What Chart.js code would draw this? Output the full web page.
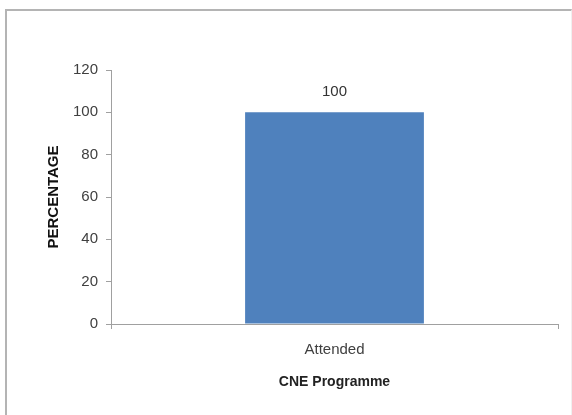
<!DOCTYPE html>
<html lang="en">
<head>
  <meta charset="UTF-8">
  <title>CNE Programme</title>
  <script src="https://cdn.jsdelivr.net/npm/chart.js"></script>
  <style>
    html, body { margin: 0; padding: 0; background: #fff; }
    #frame {
      position: absolute; left: 5px; top: 9px; width: 564px; height: 420px;
      border-left: 2px solid #b4b4b4; border-top: 2px solid #b4b4b4;
      border-right: 1px solid #f0f0f0;
    }
    #wrap { position: absolute; left: 0; top: 0; width: 572px; height: 415px; }
  </style>
</head>
<body>
  <div id="frame"></div>
  <div id="wrap"><canvas id="chart" width="572" height="415"></canvas></div>

  <script>
    const categories = ['Attended'];
    const percentages = [100];
    const yTicks = [0, 20, 40, 60, 80, 100, 120];

    const axisColor = '#a0a0a0';
    const font = '"Liberation Sans", Arial, sans-serif';

    // draws the value above each bar
    const valueLabels = {
      id: 'valueLabels',
      afterDatasetsDraw(chart) {
        const ctx = chart.ctx;
        const meta = chart.getDatasetMeta(0);
        ctx.save();
        ctx.font = '15px ' + font;
        ctx.fillStyle = '#333';
        ctx.textAlign = 'center';
        ctx.textBaseline = 'middle';
        meta.data.forEach((bar, i) => {
          ctx.fillText(String(percentages[i]), bar.x, bar.y - 20);
        });
        ctx.restore();
      }
    };

    new Chart(document.getElementById('chart'), {
      type: 'bar',
      data: {
        labels: categories,
        datasets: [{
          data: percentages,
          backgroundColor: '#4f81bd',
          borderWidth: 0,
          categoryPercentage: 1,
          barPercentage: 0.4
        }]
      },
      options: {
        responsive: false,
        animation: false,
        layout: { padding: { top: 70, right: 14, bottom: 0, left: 0 } },
        plugins: {
          legend: { display: false },
          tooltip: { enabled: false }
        },
        scales: {
          x: {
            offset: true,
            grid: { offset: true, drawOnChartArea: false, tickLength: 5, color: axisColor },
            border: { color: axisColor, width: 1 },
            ticks: { padding: 12, color: '#404040', font: { family: font, size: 15 } },
            title: {
              display: true, text: 'CNE Programme', color: '#222',
              font: { family: font, size: 14, weight: 'bold' },
              padding: { top: 0, bottom: 24 }
            },
            afterFit(scale) { scale.height = 91; }
          },
          y: {
            min: 0,
            max: 120,
            afterBuildTicks(scale) { scale.ticks = yTicks.map(v => ({ value: v })); },
            grid: { drawOnChartArea: false, tickLength: 5, color: axisColor },
            border: { color: axisColor, width: 1 },
            ticks: { padding: 8, color: '#404040', font: { family: font, size: 15 } },
            title: {
              display: true, text: 'PERCENTAGE', color: '#111',
              font: { family: font, size: 15, weight: 'bold' },
              padding: { top: 45, bottom: 0 }
            },
            afterFit(scale) { scale.width = 111; }
          }
        }
      },
      plugins: [valueLabels]
    });
  </script>
</body>
</html>
